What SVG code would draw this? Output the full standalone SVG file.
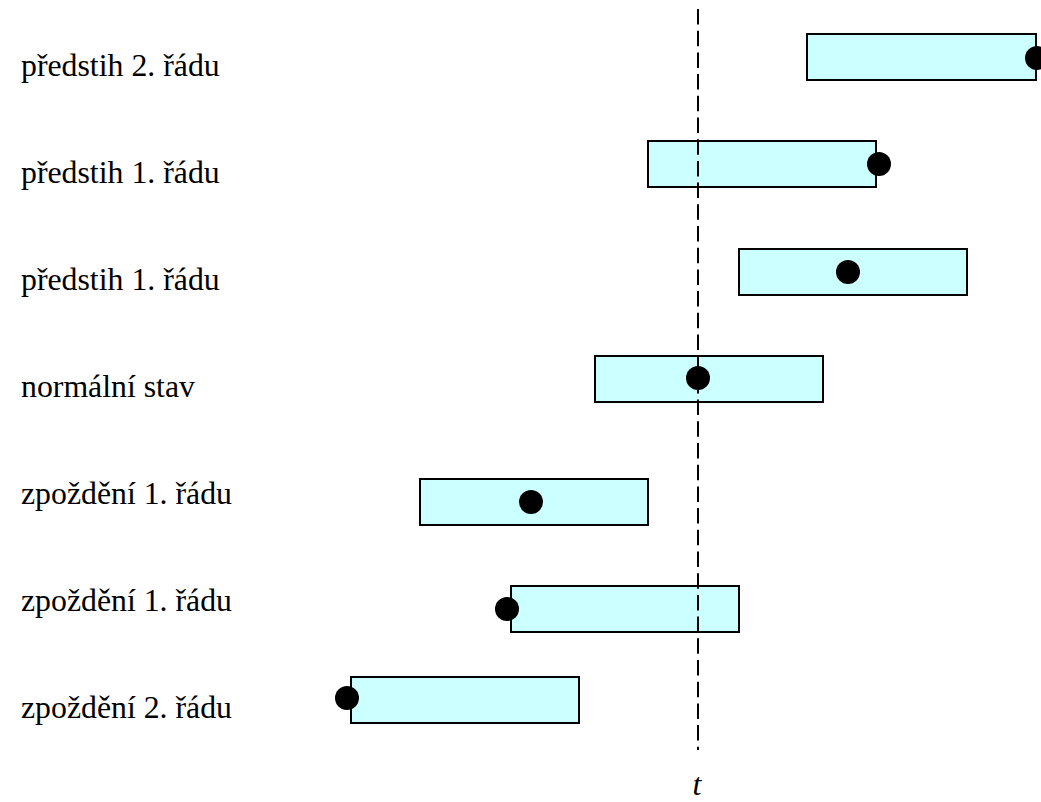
<svg xmlns="http://www.w3.org/2000/svg" width="1041" height="802" viewBox="0 0 1041 802">
<style>
.bar{fill:#ccffff;stroke:#000;stroke-width:2}
.dot{fill:#000}
.lbl{font-family:"Liberation Serif","Times New Roman",serif;font-size:31.8px;fill:#000}
.axis{stroke:#000;stroke-width:2;stroke-dasharray:15.5 6.2;fill:none}
</style>
<rect width="1041" height="802" fill="#fff"/>
<g id="labels">
<text class="lbl" x="21" y="76">předstih 2. řádu</text>
<text class="lbl" x="21" y="183">předstih 1. řádu</text>
<text class="lbl" x="21" y="290">předstih 1. řádu</text>
<text class="lbl" x="21" y="397">normální stav</text>
<text class="lbl" x="21" y="504">zpoždění 1. řádu</text>
<text class="lbl" x="21" y="611">zpoždění 1. řádu</text>
<text class="lbl" x="21" y="718">zpoždění 2. řádu</text>
</g>
<g id="bar1"><rect class="bar" x="807" y="34" width="229" height="46"/><circle class="dot" cx="1037" cy="58" r="12"/></g>
<g id="bar2"><rect class="bar" x="648" y="141" width="228" height="46"/><circle class="dot" cx="879" cy="164" r="12"/></g>
<g id="bar3"><rect class="bar" x="739" y="249" width="228" height="46"/><circle class="dot" cx="848" cy="272" r="12"/></g>
<g id="bar4"><rect class="bar" x="595" y="356" width="228" height="46"/><circle class="dot" cx="698" cy="378" r="12"/></g>
<g id="bar5"><rect class="bar" x="420" y="479" width="228" height="46"/><circle class="dot" cx="531" cy="502" r="12"/></g>
<g id="bar6"><rect class="bar" x="511" y="586" width="228" height="46"/><circle class="dot" cx="507" cy="609" r="12"/></g>
<g id="bar7"><rect class="bar" x="351" y="677" width="228" height="46"/><circle class="dot" cx="347" cy="698" r="12"/></g>
<g id="connectors">
<line class="axis" x1="698" y1="9" x2="698" y2="750"/>
</g>
<g id="axis-label"><text class="lbl" x="697" y="795" text-anchor="middle" font-style="italic">t</text></g>
</svg>
